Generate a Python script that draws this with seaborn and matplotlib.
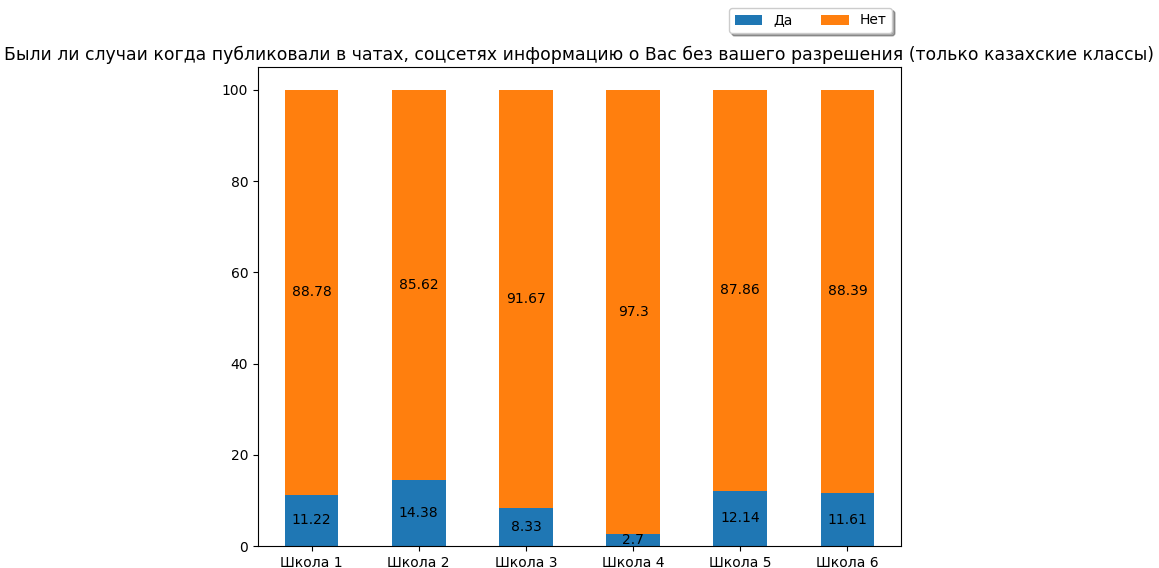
import matplotlib
matplotlib.use("Agg")
import matplotlib.pyplot as plt
import seaborn as sns

schools = ["Школа 1", "Школа 2", "Школа 3", "Школа 4", "Школа 5", "Школа 6"]
da = [11.22, 14.38, 8.33, 2.7, 12.14, 11.61]
net = [88.78, 85.62, 91.67, 97.3, 87.86, 88.39]

title = ("Были ли случаи когда публиковали в чатах, соцсетях информацию о Вас "
         "без вашего разрешения (только казахские классы)")

fig = plt.figure(figsize=(11.59, 5.68), dpi=100)
ax = fig.add_axes([0.2226, 0.0387, 0.5548, 0.8433])

sns.barplot(x=schools, y=da, color="#1f77b4", width=0.5, saturation=1,
            label="Да", ax=ax)
sns.barplot(x=schools, y=net, bottom=da, color="#ff7f0e", width=0.5,
            saturation=1, label="Нет", ax=ax)

for c in ax.containers:
    ax.bar_label(c, label_type="center", fontsize=10)

ax.set_ylim(0, 105)
ax.set_xlabel("")
ax.set_ylabel("")
ax.set_title(title, fontsize=12.4, pad=5)
ax.legend(loc="upper right", bbox_to_anchor=(899 / 1159, 1 - 1 / 568),
          bbox_transform=fig.transFigure, ncol=2, shadow=True, fontsize=10)

fig.savefig("out.png", dpi=100)
